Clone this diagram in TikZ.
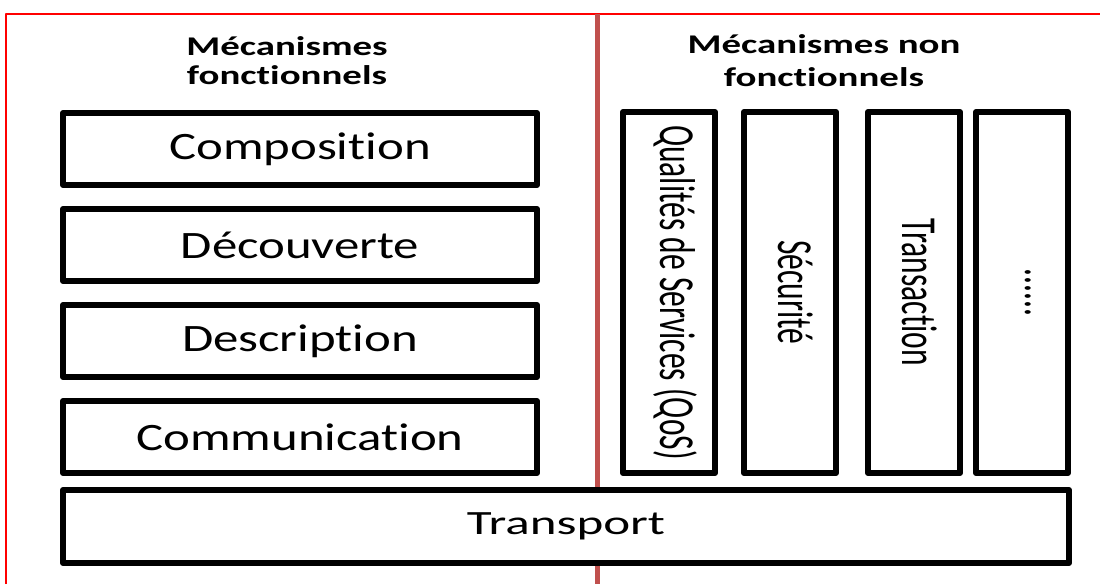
\documentclass[tikz,border=0pt]{standalone}
\usepackage{fontspec}
\usepackage{graphicx}
\usetikzlibrary{positioning, calc}
\setmainfont{Carlito}[Ligatures=NoCommon]
\newfontfamily\titlefont{Carlito}[FakeStretch=1.44, Ligatures=NoCommon]
\newfontfamily\layerfont{Carlito}[FakeStretch=1.31, Ligatures=NoCommon]
\newfontfamily\transfont{Carlito}[FakeStretch=1.5, Ligatures=NoCommon]
\newfontfamily\pillarfont{Carlito}[FakeStretch=0.625, Ligatures=NoCommon]
\definecolor{divred}{RGB}{192,80,77}
\newcommand{\pillarlabel}[1]{\hspace{12pt}\rotatebox{-90}{#1}}

\begin{document}
\begin{tikzpicture} [x = 1pt, y = 1pt, line join = round, node distance = 18pt,
  layer/.style = {draw, fill = white, line width = 6pt, minimum width = 474pt, minimum height = 72pt, inner sep = 0pt, font = \layerfont\fontsize{38.8pt}{46pt}\selectfont},
  pillar/.style = {draw, fill = white, line width = 6pt, minimum width = 92pt, minimum height = 361pt, inner sep = 0pt, font = \pillarfont\fontsize{50.4pt}{60pt}\selectfont},
  title/.style = {anchor = base, font = \titlefont\bfseries\fontsize{27pt}{29pt}\selectfont}]

\useasboundingbox (0,0) rectangle (1100,584);

% frame and separator
\draw [red, line width = 2pt] (6,0) -- (6,570) -- (1100,570);
\coordinate (divtop) at (597,570);
\coordinate (divbot) at (597,0);
\draw [divred, line width = 5pt] (divtop) -- (divbot);

% functional side
\node [title] (ftitle1) at (287,528) {Mécanismes};
\node [title] (ftitle2) at (287,499) {fonctionnels};

\node [layer] (comp) at (300,435) {Composition};
\node [layer] (decouv) [below = of comp] {Découverte};
\node [layer] (descr) [below = of decouv] {Description};
\node [layer] (commu) [below = of descr] {Communication};

% non functional side
\node [title] (ntitle1) at (824,530) {Mécanismes non};
\node [title] (ntitle2) at (824,497) {fonctionnels};

\node [pillar] (qos) at (669,291.5) {\pillarlabel{Qualités de Services (QoS)}};
\node [pillar] (secu) [right = 23pt of qos] {\pillarlabel{Sécurité}};
\node [pillar] (trans) [right = 26pt of secu] {\pillarlabel{Transaction}};
\node [pillar] (etc) [right = 10pt of trans] {\pillarlabel{......}};

% bottom layer
\node [layer, minimum width = 1006pt, minimum height = 73pt, font = \transfont\fontsize{34pt}{40pt}\selectfont] (transp) at (566,57.5) {Transport};

\end{tikzpicture}
\end{document}
